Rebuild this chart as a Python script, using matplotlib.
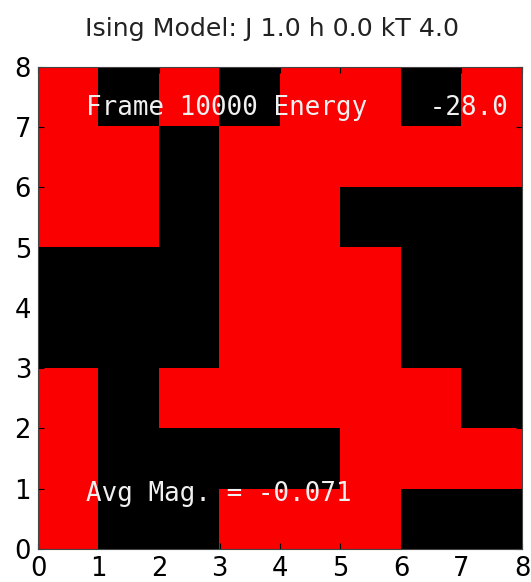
import numpy as np
import matplotlib
matplotlib.use('Agg')
import matplotlib.pyplot as plt
from matplotlib.colors import ListedColormap

# spin lattice, top row first (1 = up / red, 0 = down / black)
spins = [
    [1, 0, 1, 0, 1, 1, 0, 1],
    [1, 1, 0, 1, 1, 1, 1, 1],
    [1, 1, 0, 1, 1, 0, 0, 0],
    [0, 0, 0, 1, 1, 1, 0, 0],
    [0, 0, 0, 1, 1, 1, 0, 0],
    [1, 0, 1, 1, 1, 1, 1, 0],
    [1, 0, 0, 0, 0, 1, 1, 1],
    [1, 0, 0, 1, 1, 1, 0, 0],
]
J, h, kT = 1.0, 0.0, 4.0
frame = 10000
energy = -28.0
avg_mag = -0.071

N = len(spins)

fig = plt.figure(figsize=(5.31, 5.82), dpi=100)
ax = fig.add_axes([0.0716, 0.0567, 0.9114, 0.8282])

cmap = ListedColormap(['black', '#fa0000'])
ax.imshow(np.array(spins), cmap=cmap, vmin=0, vmax=1, origin='upper',
          extent=[0, N, 0, N], interpolation='nearest', aspect='auto')
ax.set_xlim(0, N)
ax.set_ylim(0, N)
ax.set_xticks(np.arange(N + 1))
ax.set_yticks(np.arange(N + 1))

ax.tick_params(direction='in', top=True, right=True, labelsize=18.6, length=4, width=0.8, pad=5)
for s in ax.spines.values():
    s.set_linewidth(0.8)
    s.set_color('#444444')

ax.set_title('Ising Model: J %.1f h %.1f kT %.1f' % (J, h, kT), fontsize=18.2, pad=22,
             color='#222222', x=0.484)

ax.text(0.1 * N, 0.9 * N, 'Frame %d Energy %8.1f' % (frame, energy),
        family='DejaVu Sans Mono', fontsize=18.6, color='#f0f0f0')
ax.text(0.1 * N, 0.1 * N, 'Avg Mag. = %.3f' % avg_mag,
        family='DejaVu Sans Mono', fontsize=18.6, color='#f0f0f0')

fig.savefig('out.png', dpi=100)
